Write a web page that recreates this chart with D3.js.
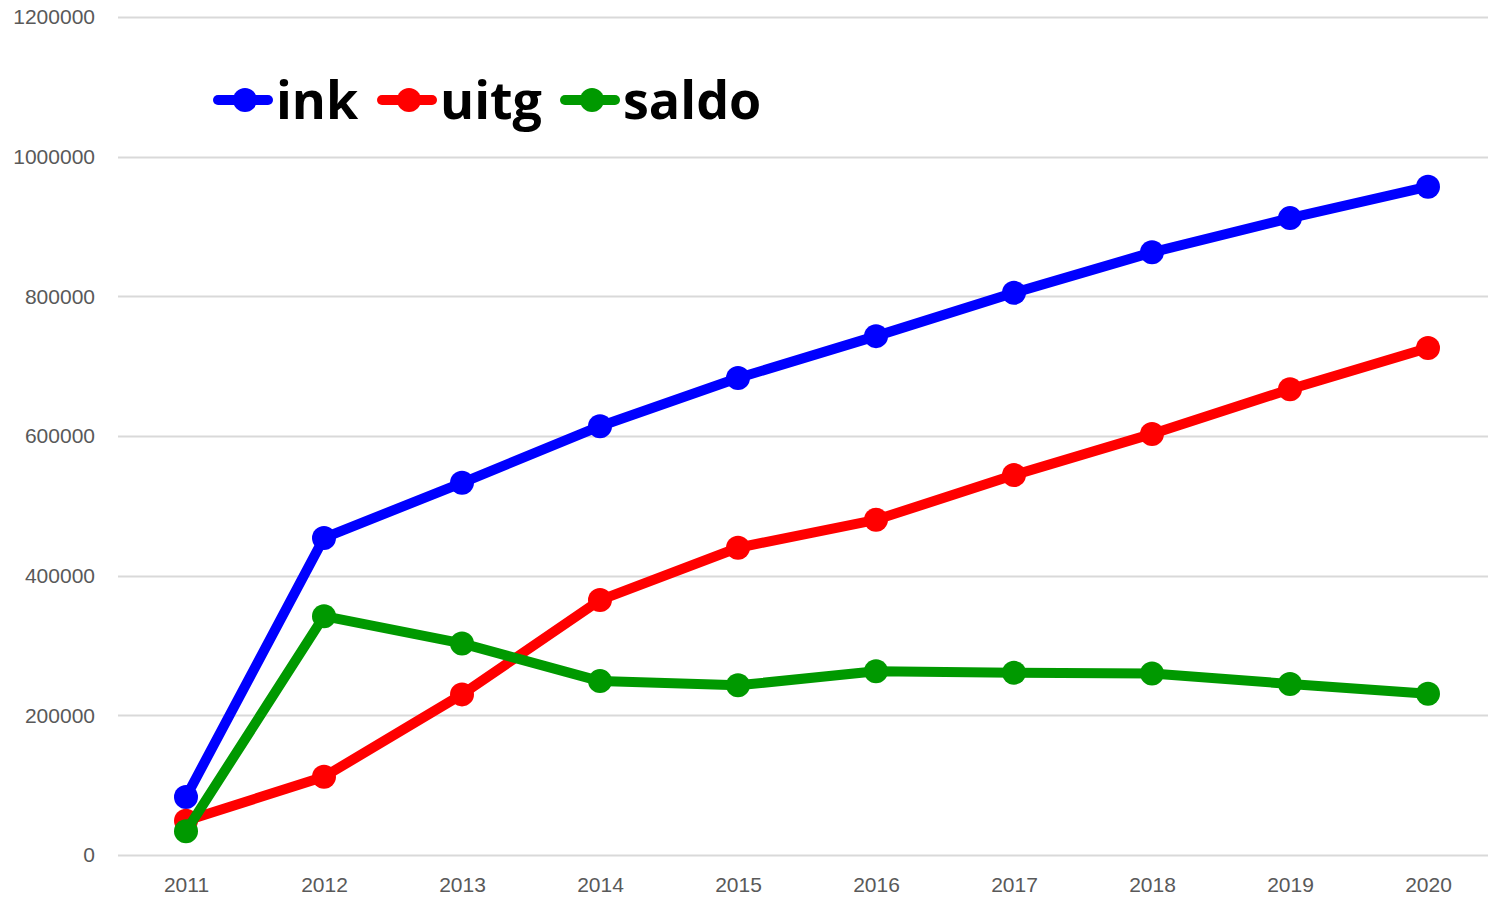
<!DOCTYPE html>
<html>
<head>
<meta charset="utf-8">
<script src="https://cdn.jsdelivr.net/npm/d3@7"></script>
<style>
  body { margin: 0; background: #fff; }
  svg { display: block; font-family: "Open Sans", "Liberation Sans", sans-serif; }
</style>
</head>
<body>
<svg id="chart" width="1489" height="899"></svg>
<script>
const years = [2011, 2012, 2013, 2014, 2015, 2016, 2017, 2018, 2019, 2020];
const ink   = [83000, 454000, 533000, 614000, 683000, 743000, 805000, 863000, 912000, 957000];
const uitg  = [49000, 112000, 230000, 365000, 440000, 480000, 544000, 603000, 667000, 726000];
const saldo = [34000, 342000, 303000, 249000, 243000, 263000, 261000, 260000, 245000, 231000];
const yTicks = [0, 200000, 400000, 600000, 800000, 1000000, 1200000];

const series = [
    { name: "ink",   color: "#0000ff", values: ink },
    { name: "uitg",  color: "#ff0000", values: uitg },
    { name: "saldo", color: "#009900", values: saldo }
];

const svg = d3.select("#chart");
const plotLeft = 118, plotRight = 1488, plotTop = 17, plotBottom = 855;

const x = d3.scalePoint()
    .domain(years)
    .range([186, 1428]);

const y = d3.scaleLinear()
    .domain([0, 1200000])
    .range([plotBottom, plotTop]);

// rasterlijnen
svg.append("g")
    .selectAll("line")
    .data(yTicks)
    .enter()
    .append("line")
    .attr("x1", plotLeft)
    .attr("x2", plotRight)
    .attr("y1", d => Math.round(y(d)) + 0.5)
    .attr("y2", d => Math.round(y(d)) + 0.5)
    .attr("stroke", "#d9d9d9")
    .attr("stroke-width", 2);

// y-as labels
const yAxis = svg.append("g")
    .attr("transform", `translate(95,0)`)
    .call(d3.axisLeft(y).tickValues(yTicks).tickSize(0).tickPadding(0).tickFormat(d3.format("d")));
yAxis.select(".domain").remove();
yAxis.selectAll("text")
    .attr("fill", "#595959")
    .attr("font-size", "21px");

// x-as labels
const xAxis = svg.append("g")
    .attr("transform", `translate(0,${plotBottom + 22})`)
    .call(d3.axisBottom(x).tickSize(0).tickPadding(0).tickFormat(d3.format("d")));
xAxis.select(".domain").remove();
xAxis.selectAll("text")
    .attr("fill", "#595959")
    .attr("font-size", "21px")
    .attr("dy", "0.71em");

const line = d3.line()
    .x((d, i) => x(years[i]))
    .y(d => y(d));

series.forEach(s => {
    const g = svg.append("g");
    g.append("path")
        .datum(s.values)
        .attr("d", line)
        .attr("fill", "none")
        .attr("stroke", s.color)
        .attr("stroke-width", 10)
        .attr("stroke-linejoin", "round")
        .attr("stroke-linecap", "round");
    g.selectAll("circle")
        .data(s.values)
        .enter()
        .append("circle")
        .attr("cx", (d, i) => x(years[i]))
        .attr("cy", d => y(d))
        .attr("r", 12)
        .attr("fill", s.color);
});

// legenda
const legendPos = [218, 382, 565];
series.forEach((s, i) => {
    const lx = legendPos[i];
    const g = svg.append("g").attr("transform", `translate(${lx},100)`);
    g.append("line")
        .attr("x1", 0).attr("x2", 50)
        .attr("stroke", s.color)
        .attr("stroke-width", 10)
        .attr("stroke-linecap", "round");
    g.append("circle")
        .attr("cx", 27)
        .attr("r", 12)
        .attr("fill", s.color);
    g.append("text")
        .attr("x", 58)
        .attr("dy", "0.36em")
        .attr("font-size", "52px")
        .attr("font-weight", "bold")
        .attr("fill", "#000")
        .text(s.name);
});
</script>
</body>
</html>
